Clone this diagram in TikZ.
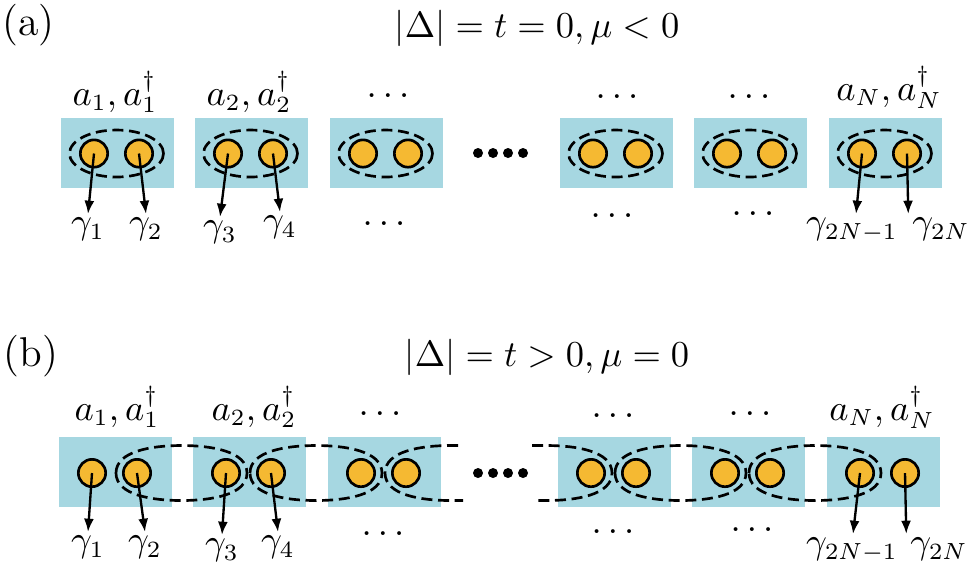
\documentclass[tikz,border=0pt]{standalone}
\usetikzlibrary{arrows.meta}

\definecolor{cellblue}{RGB}{166,215,225}
\definecolor{siteorange}{RGB}{245,185,50}

% blunt dashed loop joining two sites of neighbouring cells (x of left site, x of right site, row y)
\newcommand{\pairloop}[3]{%
  \pgfmathsetmacro{\plx}{#1-21}\pgfmathsetmacro{\prx}{#2+21}%
  \pgfmathsetmacro{\pmx}{(\plx+\prx)/2}\pgfmathsetmacro{\pha}{0.45*(\prx-\plx)/2}%
  \draw[pairring] (\plx,#3) .. controls (\plx,#3-22) and (\pmx-\pha,#3-27.5) .. (\pmx,#3-27.5)
    .. controls (\pmx+\pha,#3-27.5) and (\prx,#3-22) .. (\prx,#3)
    .. controls (\prx,#3+22) and (\pmx+\pha,#3+27.5) .. (\pmx,#3+27.5)
    .. controls (\pmx-\pha,#3+27.5) and (\plx,#3+22) .. cycle;}

\begin{document}
\begin{tikzpicture}[x=0.3pt,y=-0.3pt,
  font=\fontsize{10.5}{12.6}\selectfont,
  cell/.style={fill=cellblue, minimum width=33.9pt, minimum height=21pt, inner sep=0pt},
  site/.style={circle, draw, line width=0.8pt, fill=siteorange, minimum size=8.2pt, inner sep=0pt},
  pairring/.style={dash pattern=on 3.3pt off 1.7pt, line width=0.8pt},
  majo/.style={-{Latex[length=4pt,width=3pt]}, line width=0.7pt},
  lbl/.style={anchor=base, inner sep=0pt},
  panel/.style={anchor=base, inner sep=0pt, font=\fontsize{12.5}{15}\selectfont},
  glbl/.style={anchor=north, inner sep=1pt}]
\useasboundingbox (0,0) rectangle (973,568);

% (a) trivial pairing
\node[panel] (pa) at (28.5,35.5) {(a)};
\node[lbl] (tta) at (537,37.5) {$|\Delta| = t = 0, \mu < 0$};

\node[cell] (a1) at (117.5,153) {};
\node[cell] (a2) at (251.5,153) {};
\node[cell] (a3) at (386.5,153) {};
\node[cell] (a4) at (616.5,153) {};
\node[cell] (a5) at (750.5,153) {};
\node[cell] (a6) at (885.5,153) {};

\draw[pairring] (116.5,153.5) ellipse [x radius=14.1pt, y radius=7.05pt];
\draw[pairring] (250.5,153.5) ellipse [x radius=14.1pt, y radius=7.05pt];
\draw[pairring] (385.5,153.5) ellipse [x radius=14.1pt, y radius=7.05pt];
\draw[pairring] (615.5,153.5) ellipse [x radius=14.1pt, y radius=7.05pt];
\draw[pairring] (749.5,153.5) ellipse [x radius=14.1pt, y radius=7.05pt];
\draw[pairring] (884.5,153.5) ellipse [x radius=14.1pt, y radius=7.05pt];

\node[site] (a1l) at (94,153.5) {};  \node[site] (a1r) at (139,153.5) {};
\node[site] (a2l) at (228,153.5) {}; \node[site] (a2r) at (273,153.5) {};
\node[site] (a3l) at (363,153.5) {}; \node[site] (a3r) at (408,153.5) {};
\node[site] (a4l) at (593,153.5) {}; \node[site] (a4r) at (638,153.5) {};
\node[site] (a5l) at (727,153.5) {}; \node[site] (a5r) at (772,153.5) {};
\node[site] (a6l) at (862,153.5) {}; \node[site] (a6r) at (907,153.5) {};

\fill (478,153) circle[radius=1.5pt] (493,153) circle[radius=1.5pt]
      (508,153) circle[radius=1.5pt] (523,153) circle[radius=1.5pt];

\node[lbl] (ta1) at (115,105) {$a_1,a_1^\dagger$};
\node[lbl] (ta2) at (249,105) {$a_2,a_2^\dagger$};
\node[lbl] (ta3) at (388,97) {$\ldots$};
\node[lbl] (ta4) at (617,98) {$\ldots$};
\node[lbl] (ta5) at (749,98) {$\ldots$};
\node[lbl] (ta6) at (889,100) {$a_N,a_N^\dagger$};

\node[lbl] (da3) at (384,225) {$\ldots$};
\node[lbl] (da4) at (612,217) {$\ldots$};
\node[lbl] (da5) at (753,215) {$\ldots$};

\node[glbl] (ga1) at (88,214) {$\gamma_1$};
\node[glbl] (ga2) at (146,214) {$\gamma_2$};
\node[glbl] (ga3) at (220,217) {$\gamma_3$};
\node[glbl] (ga4) at (280,212) {$\gamma_4$};
\node[glbl] (ga5) at (852,214) {$\gamma_{2N-1}$};
\node[glbl] (ga6) at (941,214) {$\gamma_{2N}$};

\draw[majo] (a1l.center) -- (ga1.north);
\draw[majo] (a1r.center) -- (ga2.north);
\draw[majo] (a2l.center) -- (ga3.north);
\draw[majo] (a2r.center) -- (ga4.north);
\draw[majo] (a6l.center) -- ([xshift=1.2pt]ga5.north);
\draw[majo] (a6r.center) -- (ga6.north west);

% (b) topological pairing
\node[panel] (pb) at (31,366.5) {(b)};
\node[lbl] (ttb) at (547,366) {$|\Delta| = t > 0, \mu = 0$};

\node[cell] (b1) at (115.5,472) {};
\node[cell] (b2) at (249.5,472) {};
\node[cell] (b3) at (384.5,472) {};
\node[cell] (b4) at (614.5,472) {};
\node[cell] (b5) at (748.5,472) {};
\node[cell] (b6) at (883.5,472) {};

\pairloop{137}{226}{473}
\pairloop{271}{361}{473}
\pairloop{636}{725}{473}
\pairloop{770}{860}{473}
\draw[pairring] (458,445.5) -- (450.5,445.5) .. controls (421,445.5) and (385,451) .. (385,473)
  .. controls (385,495) and (421,500.5) .. (450.5,500.5) -- (463,500.5);
\draw[pairring] (532,445.5) -- (546.5,445.5) .. controls (576,445.5) and (612,451) .. (612,473)
  .. controls (612,495) and (576,500.5) .. (546.5,500.5) -- (533,500.5);

\node[site] (b1l) at (92,473) {};  \node[site] (b1r) at (137,473) {};
\node[site] (b2l) at (226,473) {}; \node[site] (b2r) at (271,473) {};
\node[site] (b3l) at (361,473) {}; \node[site] (b3r) at (406,473) {};
\node[site] (b4l) at (591,473) {}; \node[site] (b4r) at (636,473) {};
\node[site] (b5l) at (725,473) {}; \node[site] (b5r) at (770,473) {};
\node[site] (b6l) at (860,473) {}; \node[site] (b6r) at (905,473) {};

\fill (478,473) circle[radius=1.5pt] (493,473) circle[radius=1.5pt]
      (508,473) circle[radius=1.5pt] (523,473) circle[radius=1.5pt];

\node[lbl] (tb1) at (117,420) {$a_1,a_1^\dagger$};
\node[lbl] (tb2) at (254,420) {$a_2,a_2^\dagger$};
\node[lbl] (tb3) at (380,415) {$\ldots$};
\node[lbl] (tb4) at (613,417) {$\ldots$};
\node[lbl] (tb5) at (750,415) {$\ldots$};
\node[lbl] (tb6) at (882,420) {$a_N,a_N^\dagger$};

\node[lbl] (db3) at (383,535) {$\ldots$};
\node[lbl] (db4) at (613,533) {$\ldots$};
\node[lbl] (db5) at (752,531) {$\ldots$};

\node[glbl] (gb1) at (88,532) {$\gamma_1$};
\node[glbl] (gb2) at (145,532) {$\gamma_2$};
\node[glbl] (gb3) at (222,535) {$\gamma_3$};
\node[glbl] (gb4) at (278,532) {$\gamma_4$};
\node[glbl] (gb5) at (852,534) {$\gamma_{2N-1}$};
\node[glbl] (gb6) at (939,534) {$\gamma_{2N}$};

\draw[majo] (b1l.center) -- (gb1.north);
\draw[majo] (b1r.center) -- (gb2.north);
\draw[majo] (b2l.center) -- (gb3.north);
\draw[majo] (b2r.center) -- (gb4.north);
\draw[majo] (b6l.center) -- ([xshift=0.3pt]gb5.north);
\draw[majo] (b6r.center) -- (gb6.north west);
\end{tikzpicture}
\end{document}
